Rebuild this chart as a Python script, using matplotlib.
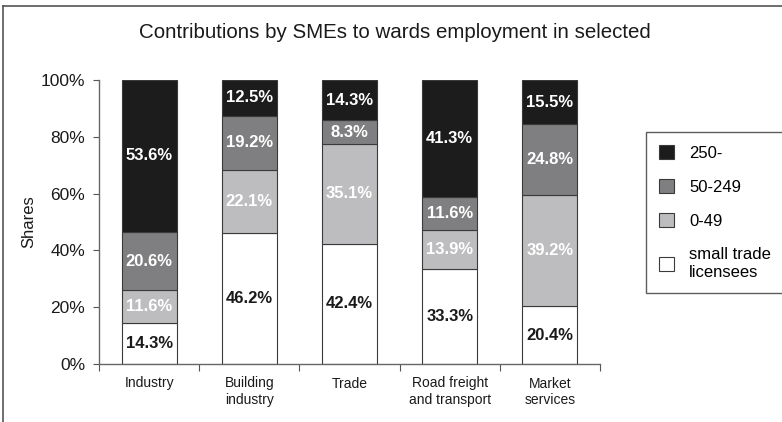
import matplotlib
matplotlib.use('Agg')
import numpy as np
from matplotlib import pyplot as plt
from matplotlib.lines import Line2D

plt.rcParams['font.family'] = ['Liberation Sans', 'DejaVu Sans']

categories = ['Industry', 'Building\nindustry', 'Trade', 'Road freight\nand transport', 'Market\nservices']
series_names = ['small trade\nlicensees', '0-49', '50-249', '250-']
small_trade = [14.3, 46.2, 42.4, 33.3, 20.4]
size_0_49 = [11.6, 22.1, 35.1, 13.9, 39.2]
size_50_249 = [20.6, 19.2, 8.3, 11.6, 24.8]
size_250 = [53.6, 12.5, 14.3, 41.3, 15.5]

series = [small_trade, size_0_49, size_50_249, size_250]
colors = ['#ffffff', '#bdbdbf', '#7f7f81', '#1c1c1c']
text_colors = ['#1a1a1a', '#ffffff', '#ffffff', '#ffffff']

fig = plt.figure(figsize=(7.82, 4.22), dpi=100)
ax = fig.add_axes([99/782, 1-364/422, 501/782, 284/422])

x = np.arange(len(categories))
bottom = np.zeros(len(categories))
bars_all = []
for vals, col, tcol, name in zip(series, colors, text_colors, series_names):
    vals = np.array(vals)
    bars = ax.bar(x, vals, 0.55, bottom=bottom, color=col, edgecolor='#3a3a3a',
                  linewidth=0.8, label=name, zorder=2)
    bars_all.append(bars)
    for xi, b, v in zip(x, bottom, vals):
        ax.text(xi, b + v/2, f'{v:.1f}%', ha='center', va='center', color=tcol,
                fontsize=12, fontweight='bold', zorder=3)
    bottom += vals

ax.set_xlim(-0.5, 4.5)
ax.set_ylim(0, 100)
ax.set_yticks([0, 20, 40, 60, 80, 100])
ax.set_yticklabels(['0%', '20%', '40%', '60%', '80%', '100%'], fontsize=12.5, color='#1a1a1a')
ax.set_xticks(np.arange(-0.5, 5, 1))
ax.set_xticklabels([])
ax.set_xticks(x, minor=True)
ax.set_xticklabels(categories, minor=True, fontsize=10, color='#1a1a1a', linespacing=1.25)
ax.tick_params(axis='x', which='minor', length=0, pad=9)
ax.tick_params(axis='x', which='major', length=5, direction='out', color='#555555')
ax.tick_params(axis='y', length=4, direction='out', color='#555555', pad=6)
for s in ['top', 'right']:
    ax.spines[s].set_visible(False)
for s in ['left', 'bottom']:
    ax.spines[s].set_color('#666666')
    ax.spines[s].set_linewidth(1.0)
ax.set_ylabel('Shares', fontsize=12, color='#1a1a1a', labelpad=3)

fig.text(395/782, 1-32/422, 'Contributions by SMEs to wards employment in selected',
         ha='center', va='center', fontsize=14.8, color='#1a1a1a')

handles = [bars_all[3], bars_all[2], bars_all[1], bars_all[0]]
labels = [series_names[3], series_names[2], series_names[1], series_names[0]]
leg = fig.legend(handles, labels, loc='upper left', bbox_to_anchor=(646/782, 1-132/422),
                 fontsize=12, frameon=True, fancybox=False, handlelength=0.9, handleheight=0.9,
                 labelspacing=1.1, handletextpad=0.9, borderpad=0.8, borderaxespad=0)
leg.get_frame().set_edgecolor('#333333')
leg.get_frame().set_linewidth(1.0)

# outer frame: top and left edges only
fig.add_artist(Line2D([3/782, 1], [1-6/422, 1-6/422], color='#555555', lw=1.2,
                      transform=fig.transFigure))
fig.add_artist(Line2D([3/782, 3/782], [0, 1-6/422], color='#555555', lw=1.2,
                      transform=fig.transFigure))

fig.savefig('out.png', dpi=100)
